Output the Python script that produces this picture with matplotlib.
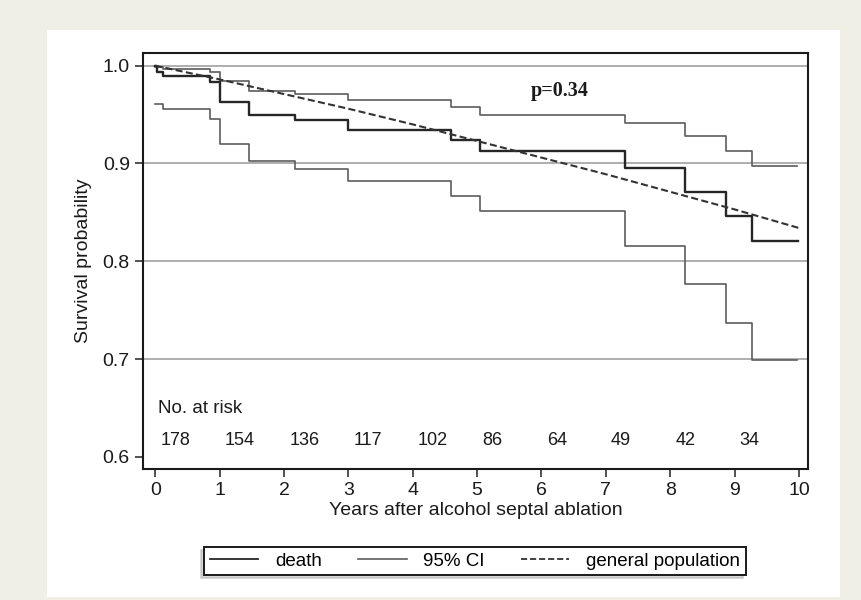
import matplotlib
matplotlib.use("Agg")
import matplotlib.pyplot as plt
from matplotlib.lines import Line2D
from matplotlib.patches import Rectangle

plt.rcParams['font.family'] = ['Liberation Sans', 'DejaVu Sans']

# Kaplan-Meier estimate (death)
death_t = [0, 0.02, 0.12, 0.85, 1.0, 1.46, 2.17, 3.0, 4.6, 5.05, 7.3, 8.23, 8.87, 9.27, 9.98]
death_s = [1.0, 0.994, 0.989, 0.983, 0.963, 0.950, 0.944, 0.934, 0.924, 0.913, 0.895, 0.871, 0.846, 0.821, 0.821]

# 95% confidence band
ci_t = [0.0, 0.12, 0.85, 1.0, 1.46, 2.17, 3.0, 4.6, 5.05, 7.3, 8.23, 8.87, 9.27, 9.97]
ci_upper = [0.999, 0.997, 0.994, 0.984, 0.974, 0.971, 0.965, 0.958, 0.950, 0.941, 0.928, 0.9125, 0.897, 0.897]
ci_lower = [0.961, 0.956, 0.945, 0.920, 0.903, 0.894, 0.882, 0.867, 0.851, 0.816, 0.777, 0.737, 0.699, 0.699]

# expected survival of the general population
pop_t = [0, 1, 2, 3, 4, 5, 6, 7, 8, 9, 10]
pop_s = [1.0, 0.986, 0.971, 0.956, 0.940, 0.923, 0.906, 0.889, 0.871, 0.853, 0.834]

# numbers at risk
risk_t = [0, 1, 2, 3, 4, 5, 6, 7, 8, 9]
risk_n = [178, 154, 136, 117, 102, 86, 64, 49, 42, 34]

grid_y = [0.7, 0.8, 0.9, 1.0]
y_ticks = [0.6, 0.7, 0.8, 0.9, 1.0]
x_ticks = list(range(11))

fig = plt.figure(figsize=(8.62, 6.0), dpi=100, facecolor='#efefe5')
# white panel behind the chart
fig.patches.append(Rectangle((47 / 862, 3 / 600), 793 / 862, 567 / 600,
                             transform=fig.transFigure, facecolor='white',
                             edgecolor='none', zorder=-5))

ax = fig.add_axes([143 / 862, 1 - 469 / 600, 665 / 862, 416 / 600])
ax.set_zorder(1)
ax.set_facecolor('white')

for g in grid_y:
    ax.axhline(g, color='#a8a8a8', lw=1.3, zorder=1)

ax.step(ci_t, ci_upper, where='post', color='#5c5c5c', lw=1.2, zorder=2)
ax.step(ci_t, ci_lower, where='post', color='#5c5c5c', lw=1.2, zorder=2)
ax.step(death_t, death_s, where='post', color='#262626', lw=1.7, zorder=3)
ax.plot(pop_t, pop_s, color='#333333', lw=1.5, dashes=(3.4, 1.6), zorder=4)

ax.text(6.29, 0.9743, 'p=0.34', family='Liberation Serif', fontweight='bold',
        fontsize=14.5, ha='center', va='center', color='#1a1a1a')

ax.text(0.05, 0.6495, 'No. at risk', fontsize=13.5, ha='left', va='center', color='#1a1a1a')
for t, n in zip(risk_t, risk_n):
    ax.text(t + 0.08, 0.6162, str(n), fontsize=13, ha='left', va='center', color='#1a1a1a')

ax.set_xlim(-0.19, 10.14)
ax.set_ylim(0.5875, 1.013)
ax.set_xticks(x_ticks)
ax.set_yticks(y_ticks)
ax.set_yticklabels(['%.1f' % v for v in y_ticks])

for s in ax.spines.values():
    s.set_linewidth(1.5)
    s.set_color('#1a1a1a')
ax.tick_params(axis='both', direction='out', length=5.5, width=1.2,
               color='#333333', labelsize=14, labelcolor='#1a1a1a')
ax.tick_params(axis='x', pad=4)
ax.tick_params(axis='y', pad=4)

ax.set_xlabel('Years after alcohol septal ablation', fontsize=14, color='#1a1a1a')
ax.xaxis.set_label_coords(0.5, -0.08)
ax.set_ylabel('Survival probability', fontsize=14, color='#1a1a1a')
ax.yaxis.set_label_coords(-0.077, 0.5)

handles = [
    Line2D([], [], color='#262626', lw=1.3),
    Line2D([], [], color='#5c5c5c', lw=1.2),
    Line2D([], [], color='#333333', lw=1.3, dashes=(3.4, 1.6)),
]
labels = ['death', '95% CI', 'general population']
leg = ax.legend(handles, labels, loc='center', ncol=3,
                bbox_to_anchor=(475 / 862, 1 - 561 / 600),
                bbox_transform=fig.transFigure, fontsize=13.5,
                handlelength=2.6, handletextpad=0.9, columnspacing=1.9,
                borderpad=0.3, fancybox=False, framealpha=1,
                edgecolor='#1a1a1a', facecolor='white',
                shadow={'ox': -2, 'oy': -2, 'shade': 0.3})
leg.get_frame().set_linewidth(1.4)

fig.savefig('out.png', dpi=100, facecolor=fig.get_facecolor())
